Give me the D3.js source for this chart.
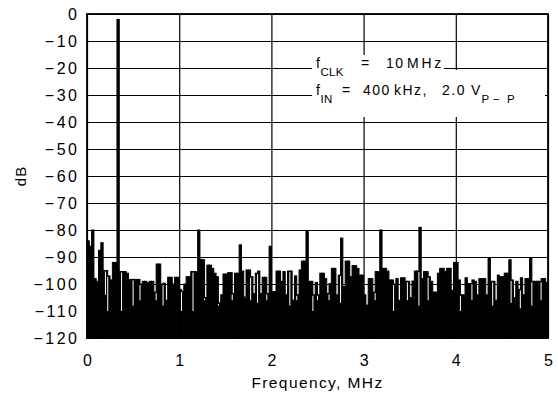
<!DOCTYPE html>
<html>
<head>
<meta charset="utf-8">
<script src="https://cdn.jsdelivr.net/npm/d3@7"></script>
<style>
  body { margin: 0; background: #fff; }
  svg { display: block; font-family: "Liberation Sans", Arial, sans-serif; }
</style>
</head>
<body>
<script>
// FFT spectrum, fCLK = 10 MHz, fIN = 400 kHz. One value per 25 kHz bin (dB).
var BIN_MHZ = 0.025;
var LEVELS = [
  -84, -86, -80, -98, -99, -87.5, -84.7, -95, -95, -97,
  -98.5, -92, -92, -2, -95.4, -95.4, -95.4, -96, -98.3, -98.3,
  -98.3, -98.3, -98.3, -100, -99, -99, -99.5, -99, -99, -103,
  -92.6, -92.6, -100, -99.7, -106, -97.5, -97.5, -100, -97.5, -97.5,
  -102, -102.6, -100, -97.3, -97.3, -95.4, -95.4, -95.4, -80, -90.9,
  -91, -105, -93, -93, -94.2, -96, -97.3, -107, -104, -96.3,
  -96.3, -95.8, -95.8, -103.5, -96, -96, -85.5, -95.2, -104.8, -94.8,
  -94.8, -97.3, -103.5, -96, -95.2, -103.5, -97.5, -97.5, -103.5, -86,
  -102.8, -102.8, -95.2, -95.2, -99, -95.4, -104, -95.2, -95.2, -106,
  -97, -104, -94.8, -91.5, -91.5, -80.6, -99, -99, -104, -99.4,
  -104, -96, -96, -98, -103.5, -99.8, -94.2, -94.2, -104, -96.7,
  -83, -101, -91.5, -91.5, -97.3, -93.2, -93.2, -94.2, -96.7, -96.7,
  -104, -107.8, -98, -98, -103, -95.4, -95.4, -80, -94.2, -94.2,
  -95.2, -98.5, -98.5, -100, -98, -106, -97.7, -97.7, -99, -99,
  -105, -98.9, -95.2, -95.2, -79, -98, -95.4, -95.4, -97.3, -99,
  -103, -103, -96, -94.2, -94.2, -95.4, -94.2, -94.2, -102.3, -92,
  -92, -98.5, -104, -104, -97.7, -99.8, -99.8, -98.5, -99, -104,
  -98, -98, -98, -104, -90.2, -99, -99, -106, -96.7, -97.3,
  -97.3, -96, -96, -91, -98.5, -105, -99, -102, -97.7, -104,
  -98, -98, -90.2, -99, -99, -99, -99, -98, -98, -99.4
];
// narrow notches between bins (MHz, dB)
var DIP_FREQS = [0.195, 0.228, 0.369, 0.51, 0.575, 0.76, 0.824, 0.878, 1.03, 1.139,
  1.28, 1.421, 1.584, 1.714, 1.768, 1.844, 1.952, 2.202, 2.278, 2.44,
  2.495, 2.614, 2.744, 3.037, 3.124, 3.319, 3.482, 3.601, 3.698, 4.045,
  4.176, 4.403, 4.588, 4.696, 4.837, 4.935];
var DIP_LEVELS = [-104, -110, -110, -108, -106, -106, -108, -106, -110, -110,
  -106, -108, -106, -105, -106, -107, -106, -108, -106, -110,
  -106, -106, -107, -107, -106, -110, -106, -108, -106, -110,
  -106, -108, -107, -109, -108, -106];
var X_TICKS = [0, 1, 2, 3, 4, 5];
var Y_TICKS = [0, -10, -20, -30, -40, -50, -60, -70, -80, -90, -100, -110, -120];

var W = 558, H = 409;
var L = 87, R = 548, T = 14, B = 338;
var x = d3.scaleLinear().domain([0, 5]).range([L, R]);
var y = d3.scaleLinear().domain([0, -120]).range([T, B]);

var svg = d3.select("body").append("svg").attr("width", W).attr("height", H);

function minus(d) { return d === 0 ? "0" : "\u2212" + Math.abs(d); }

// grid + tick labels via axes
var gy = svg.append("g").attr("transform", "translate(" + L + ",0)")
  .call(d3.axisLeft(y).tickValues(Y_TICKS).tickSize(-(R - L)).tickPadding(7.5).tickFormat(minus));
var gx = svg.append("g").attr("transform", "translate(0," + B + ")")
  .call(d3.axisBottom(x).tickValues(X_TICKS).tickSize(-(B - T)).tickPadding(17).tickFormat(d3.format("d")));
[gx, gy].forEach(function (g) {
  g.select(".domain").remove();
  g.selectAll(".tick line").attr("stroke", "#000").attr("stroke-width", 1.2);
  g.selectAll(".tick text").attr("fill", "#000").style("font-size", "16px")
    .style("letter-spacing", "2.5px").style("font-family", "'Liberation Sans', Arial, sans-serif");
});
gx.selectAll(".tick text").attr("dx", "1.25px");

// spectrum bins
svg.append("g").selectAll("rect").data(LEVELS).join("rect")
  .attr("x", function (d, i) { return x(i * BIN_MHZ); })
  .attr("width", function (d, i) { return x((i + 1) * BIN_MHZ) - x(i * BIN_MHZ); })
  .attr("y", function (d) { return y(d); })
  .attr("height", function (d) { return y(-120) - y(d); })
  .attr("fill", "#000").attr("stroke", "#000").attr("stroke-width", 1);

// white notches between bins
var dips = DIP_FREQS.map(function (f, k) {
  var j = Math.round(f / BIN_MHZ);
  var lower = Math.min(LEVELS[j - 1], LEVELS[j]);
  return { x: x(j * BIN_MHZ), top: lower, bot: DIP_LEVELS[k] };
}).filter(function (d) { return d.bot < d.top; });
svg.append("g").selectAll("line").data(dips).join("line")
  .attr("x1", function (d) { return d.x; }).attr("x2", function (d) { return d.x; })
  .attr("y1", function (d) { return y(d.top) + 1; }).attr("y2", function (d) { return y(d.bot); })
  .attr("stroke", "#fff").attr("stroke-width", 1);

// frame
svg.append("rect").attr("x", L).attr("y", T).attr("width", R - L).attr("height", B - T)
  .attr("fill", "none").attr("stroke", "#000").attr("stroke-width", 1.8);

// annotation, sitting on the -20 and -30 grid lines
var ann = svg.append("g").attr("fill", "#000");
var r1 = y(-20), r2 = y(-30);
ann.append("rect").attr("x", 312).attr("y", r1 - 13).attr("width", 132).attr("height", 23).attr("fill", "#fff");
ann.append("rect").attr("x", 312).attr("y", r1 + 2).attr("width", 233).attr("height", r2 - r1 + 20).attr("fill", "#fff");
function put(t, px, py, sub, ls) {
  ann.append("text").attr("x", px).attr("y", py)
    .style("font-size", sub ? "11.5px" : "14px")
    .style("letter-spacing", (ls != null ? ls : (sub ? 0.3 : 1.5)) + "px").text(t);
}
put("f", 316, r1);
put("CLK", 320.5, r1 + 8, true);
put("=", 361, r1);
put("10", 386, r1);
put("MHz", 407, r1, false, 2.8);
put("f", 316, r2);
put("IN", 320.5, r2 + 8, true);
put("=", 342, r2);
put("400", 363, r2);
put("kHz,", 394, r2);
put("2.0", 442, r2);
put("V", 471, r2);
put("P", 481.5, r2 + 8, true);
put("\u2212", 493, r2 + 8, true);
put("P", 507, r2 + 8, true);

// axis titles
svg.append("text").attr("x", (L + R) / 2).attr("y", 388).attr("text-anchor", "middle")
  .style("font-size", "15.5px").style("letter-spacing", "1.4px").text("Frequency, MHz");
svg.append("text").attr("transform", "translate(26," + ((T + B) / 2) + ") rotate(-90)")
  .attr("text-anchor", "middle").style("font-size", "15px").style("letter-spacing", "1px").text("dB");
</script>
</body>
</html>
